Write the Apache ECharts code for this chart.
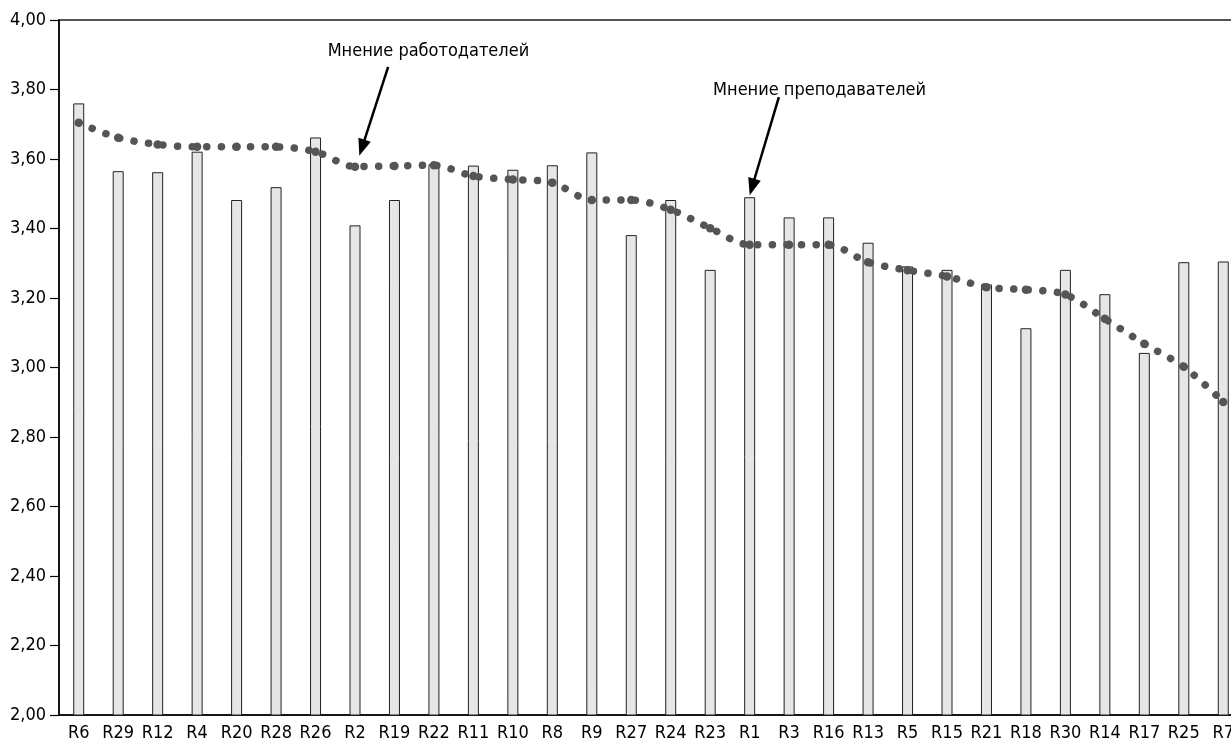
<!DOCTYPE html>
<html>
<head>
<meta charset="utf-8">
<script src="https://cdn.jsdelivr.net/npm/echarts@6/dist/echarts.min.js"></script>
<style>
  html, body { margin: 0; padding: 0; background: #ffffff; overflow: hidden; width: 1231px; height: 745px; }
  #chart { width: 1250px; height: 745px; }
</style>
</head>
<body>
<div id="chart"></div>
<script>
// ---- data ----
var categories = ['R6','R29','R12','R4','R20','R28','R26','R2','R19','R22','R11','R10','R8','R9','R27','R24','R23','R1','R3','R16','R13','R5','R15','R21','R18','R30','R14','R17','R25','R7'];
// Мнение преподавателей (bars)
var teachers = [3.76,3.565,3.562,3.621,3.482,3.519,3.662,3.409,3.482,3.585,3.581,3.569,3.582,3.619,3.381,3.482,3.281,3.490,3.432,3.432,3.359,3.291,3.281,3.239,3.113,3.281,3.211,3.042,3.303,3.305];
// Мнение работодателей (dotted line)
var employers = [3.704,3.661,3.642,3.635,3.635,3.635,3.621,3.578,3.580,3.582,3.551,3.541,3.532,3.482,3.482,3.454,3.401,3.353,3.353,3.353,3.303,3.280,3.262,3.231,3.224,3.210,3.140,3.068,3.002,2.901];
var yTicks = [2.0, 4.0, 0.2]; // min, max, step
var labelEmployers = 'Мнение работодателей';
var labelTeachers = 'Мнение преподавателей';

var FONT = "'Liberation Sans Narrow', 'DejaVu Sans Condensed', 'Liberation Sans', sans-serif";

var chart = echarts.init(document.getElementById('chart'), null, { renderer: 'canvas' });

var option = {
  animation: false,
  backgroundColor: '#ffffff',
  grid: {
    left: 59, top: 20, width: 1184, height: 695,
    show: true, borderColor: '#555555', borderWidth: 2, backgroundColor: 'transparent'
  },
  xAxis: {
    type: 'category',
    data: categories,
    boundaryGap: true,
    axisLine: { show: true, lineStyle: { color: '#000000', width: 1.5 } },
    axisTick: { show: false },
    axisLabel: { color: '#000000', fontSize: 18, fontFamily: FONT, margin: 9, interval: 0 },
    splitLine: { show: false }
  },
  yAxis: {
    type: 'value',
    min: yTicks[0], max: yTicks[1], interval: yTicks[2],
    axisLine: { show: true, lineStyle: { color: '#000000', width: 1.5 } },
    axisTick: { show: true, length: 9, lineStyle: { color: '#000000', width: 1.2 } },
    axisLabel: {
      color: '#000000', fontSize: 18, fontFamily: FONT, margin: 13,
      formatter: function (v) { return v.toFixed(2).replace('.', ','); }
    },
    splitLine: { show: false }
  },
  series: [
    {
      name: labelTeachers,
      type: 'bar',
      data: teachers,
      barWidth: 11,
      itemStyle: { color: '#e6e6e6', borderColor: '#222222', borderWidth: 1 },
      z: 2
    },
    {
      name: labelEmployers,
      type: 'line',
      data: employers,
      smooth: 0.3,
      symbol: 'circle',
      symbolSize: 8.5,
      showSymbol: true,
      itemStyle: { color: '#555555' },
      lineStyle: { color: '#555555', width: 7.5, type: [0.1, 14.5], cap: 'round' },
      z: 3
    }
  ]
};
chart.setOption(option);

// ---- annotations (arrows + labels) positioned through the axes ----
function toPx(idx, val) {
  var i0 = Math.floor(idx);
  var p0 = chart.convertToPixel({ xAxisIndex: 0, yAxisIndex: 0 }, [i0, val]);
  var p1 = chart.convertToPixel({ xAxisIndex: 0, yAxisIndex: 0 }, [i0 + 1, val]);
  return [p0[0] + (idx - i0) * (p1[0] - p0[0]), p0[1]];
}
function arrow(from, to) {
  var a = toPx(from[0], from[1]);
  var b = toPx(to[0], to[1]);
  var dx = b[0] - a[0], dy = b[1] - a[1];
  var len = Math.sqrt(dx * dx + dy * dy);
  var ux = dx / len, uy = dy / len;
  var hl = 17, hw = 6.5;
  var base = [b[0] - ux * hl, b[1] - uy * hl];
  var left = [base[0] - uy * hw, base[1] + ux * hw];
  var right = [base[0] + uy * hw, base[1] - ux * hw];
  return [
    { type: 'line', shape: { x1: a[0], y1: a[1], x2: base[0] + ux * 2, y2: base[1] + uy * 2 },
      style: { stroke: '#000000', lineWidth: 2.5 }, z: 10 },
    { type: 'polygon', shape: { points: [b, left, right] },
      style: { fill: '#000000' }, z: 10 }
  ];
}
function label(text, at) {
  var p = toPx(at[0], at[1]);
  return { type: 'text', x: p[0], y: p[1], z: 10,
    style: { text: text, fill: '#000000', font: '18px ' + FONT, textAlign: 'center', textVerticalAlign: 'middle' } };
}
var els = [];
els = els.concat(arrow([7.84, 3.865], [7.11, 3.609]));
els.push(label(labelEmployers, [8.86, 3.911]));
els = els.concat(arrow([17.74, 3.778], [17.0, 3.496]));
els.push(label(labelTeachers, [18.77, 3.799]));
chart.setOption({ graphic: { elements: els } });
</script>
</body>
</html>
